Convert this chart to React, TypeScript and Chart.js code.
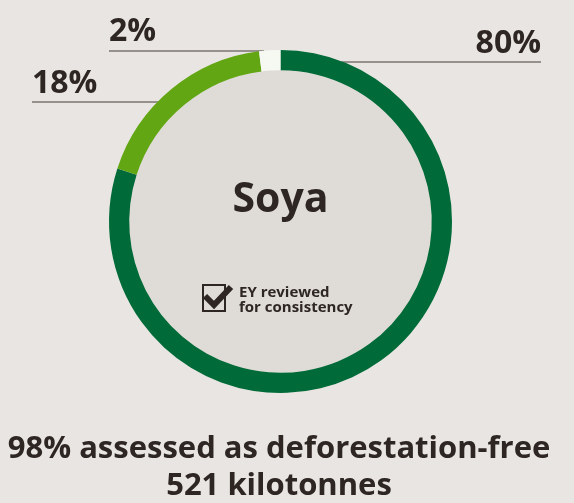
import React, { useEffect, useRef } from "react";
import { Chart, registerables } from "chart.js";

Chart.register(...registerables);

const categories = ["Verified deforestation-free", "Deforestation-free", "Not deforestation-free"];
const values = [80, 18, 2];
const sliceColors = ["#006b38", "#62a713", "#f5f9f1"];
const percentLabels = values.map((v) => `${v}%`);
const centerTitle = "Soya";
const badgeLines = ["EY reviewed", "for consistency"];
const footerLines = ["98% assessed as deforestation-free", "521 kilotonnes"];

const BG = "#e8e5e2";
const INNER = "#dfdcd8";
const INK = "#2e2622";
const FONT = "'Open Sans', sans-serif";

// label placement: [textX, textBaseline, align, lineY]
const labelPlacement: [number, number, CanvasTextAlign, number][] = [
  [541, 53, "right", 62],
  [32, 93, "left", 102],
  [109, 41, "left", 51],
];

const decorPlugin = {
  id: "decor",
  beforeDatasetsDraw(chart: any) {
    const ctx = chart.ctx;
    const arc = chart.getDatasetMeta(0).data[0];
    if (!arc) return;
    const { x, y, innerRadius, outerRadius } = arc.getProps(["x", "y", "innerRadius", "outerRadius"], true);
    ctx.save();
    ctx.fillStyle = INNER;
    ctx.beginPath();
    ctx.arc(x, y, innerRadius + 1, 0, Math.PI * 2);
    ctx.fill();
    ctx.strokeStyle = "#7d7570";
    ctx.lineWidth = 1.6;
    labelPlacement.forEach(([tx, , align, ly]) => {
      const dy = ly - y;
      const dx = Math.sqrt(Math.max(outerRadius * outerRadius - dy * dy, 0));
      const edge = align === "right" ? x + dx - 2 : x - dx + 2;
      ctx.beginPath();
      ctx.moveTo(tx, ly);
      ctx.lineTo(edge, ly);
      ctx.stroke();
    });
    ctx.restore();
  },
  afterDatasetsDraw(chart: any) {
    const ctx = chart.ctx;
    const arc = chart.getDatasetMeta(0).data[0];
    if (!arc) return;
    const { x } = arc.getProps(["x", "y"], true);
    ctx.save();
    ctx.fillStyle = INK;
    ctx.textBaseline = "alphabetic";
    ctx.font = `bold 32px ${FONT}`;
    labelPlacement.forEach(([tx, ty, align], i) => {
      ctx.textAlign = align;
      ctx.fillText(percentLabels[i], tx, ty);
    });
    ctx.textAlign = "center";
    ctx.font = `bold 41px ${FONT}`;
    ctx.fillText(centerTitle, x, 212);
    ctx.strokeStyle = INK;
    ctx.lineWidth = 2;
    ctx.strokeRect(203, 285, 22, 26);
    ctx.lineWidth = 6;
    ctx.lineJoin = "miter";
    ctx.beginPath();
    ctx.moveTo(205, 296);
    ctx.lineTo(214, 305);
    ctx.lineTo(231, 287);
    ctx.stroke();
    ctx.textAlign = "left";
    ctx.font = `bold 15px ${FONT}`;
    ctx.fillText(badgeLines[0], 239, 297);
    ctx.fillText(badgeLines[1], 239, 312);
    ctx.textAlign = "center";
    ctx.font = `bold 31px ${FONT}`;
    ctx.fillText(footerLines[0], 279, 458);
    ctx.fillText(footerLines[1], 279, 495);
    ctx.restore();
  },
};

export default function App() {
  const ref = useRef<HTMLCanvasElement>(null);
  useEffect(() => {
    document.body.style.margin = "0";
    document.body.style.background = BG;
    const chart = new Chart(ref.current!, {
      type: "doughnut",
      data: {
        labels: categories,
        datasets: [
          {
            data: values,
            backgroundColor: sliceColors,
            borderWidth: 0,
          },
        ],
      },
      options: {
        animation: false,
        responsive: false,
        cutout: "88.2%",
        rotation: 0,
        layout: { padding: { left: 109, right: 122, top: 50, bottom: 110 } },
        plugins: { legend: { display: false }, tooltip: { enabled: false } },
      },
      plugins: [decorPlugin],
    });
    return () => chart.destroy();
  }, []);
  return (
    <div style={{ width: 574, height: 503, background: BG }}>
      <canvas ref={ref} width={574} height={503} style={{ display: "block" }} />
    </div>
  );
}
